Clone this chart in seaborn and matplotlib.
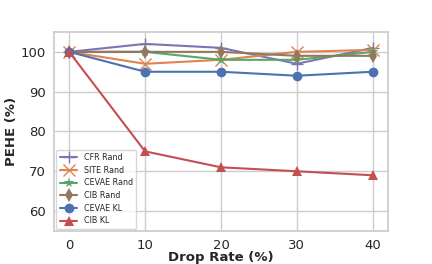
import pandas as pd
import seaborn as sns
import matplotlib.pyplot as plt

# Data
drop_rate = [0, 10, 20, 30, 40]
cfr_rand = [100, 102, 101, 97, 101]
site_rand = [100, 97, 98, 100, 100.5]
cevae_rand = [100, 100, 98, 98, 100]
cib_rand = [100, 100, 100, 99, 99]
cevae_kl = [100, 95, 95, 94, 95]
cib_kl = [100, 75, 71, 70, 69]

series = {
    'CFR Rand': cfr_rand,
    'SITE Rand': site_rand,
    'CEVAE Rand': cevae_rand,
    'CIB Rand': cib_rand,
    'CEVAE KL': cevae_kl,
    'CIB KL': cib_kl,
}

sns.set_theme(style='whitegrid')
pal = sns.color_palette('deep')
colors = [pal[4], pal[1], pal[2], pal[5], pal[0], pal[3]]
markers = ['+', 'x', '*', 'd', 'o', '^']
sizes = [9, 8, 8, 7, 7, 7]

fig = plt.figure(figsize=(4.32, 2.64), dpi=100)
ax = fig.add_axes([0.125, 0.125, 0.773, 0.754])

for (name, vals), c, m, s in zip(series.items(), colors, markers, sizes):
    sns.lineplot(x=drop_rate, y=vals, ax=ax, color=c, marker=m, markersize=s,
                 markeredgecolor=c, markeredgewidth=1.0 if m in '+x' else 0,
                 linewidth=1.5, label=name)

ax.set_ylim(55, 105)
ax.set_yticks([60, 70, 80, 90, 100])
ax.set_xticks(drop_rate)
ax.tick_params(labelsize=9.5, pad=0)
ax.set_xlabel('Drop Rate (%)', fontsize=9.5, fontweight='bold', labelpad=-1)
ax.set_ylabel('PEHE (%)', fontsize=9.5, fontweight='bold', labelpad=2)
ax.legend(loc='lower left', fontsize=5.8, frameon=True, borderaxespad=0.3,
          handlelength=2.2, labelspacing=0.45)

fig.savefig('out.png', dpi=100)
